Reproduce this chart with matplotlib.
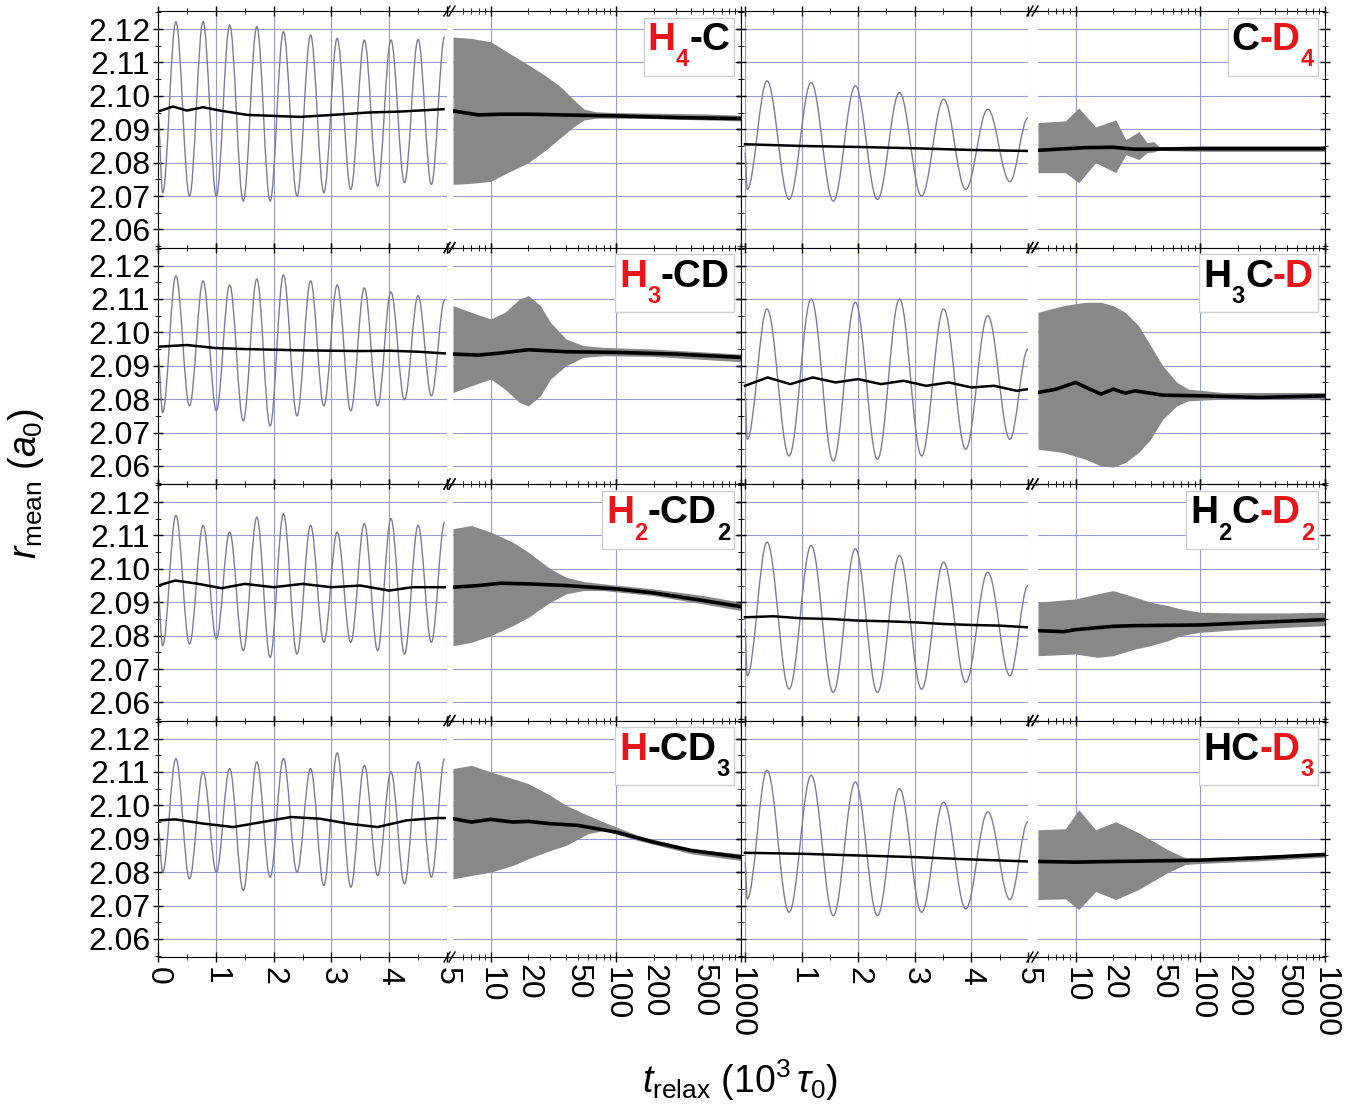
import matplotlib
matplotlib.use("Agg")
import matplotlib.pyplot as plt
from matplotlib.path import Path
from matplotlib.patches import PathPatch
from matplotlib.lines import Line2D
from matplotlib.offsetbox import TextArea, HPacker, VPacker, DrawingArea, AnchoredOffsetbox
from matplotlib.ticker import FixedLocator, NullFormatter, FuncFormatter, MultipleLocator

plt.rcParams["font.family"] = ["Liberation Sans", "DejaVu Sans"]
plt.rcParams["mathtext.fontset"] = "custom"
plt.rcParams["mathtext.rm"] = "Liberation Sans"
plt.rcParams["mathtext.it"] = "Liberation Sans:italic"
plt.rcParams["mathtext.bf"] = "Liberation Sans:bold"

RED = "#e8161b"
OSC_C = "#7c7c96"
BAND_C = "#888888"
GRID_C = "#9a9ad2"
YLIM = (2.0546, 2.1254)

# ---- linear segment (0..5): times of start point and alternating extrema
LT = [0.0, 0.08, 0.31, 0.545, 0.78, 1.01, 1.24, 1.475, 1.71, 1.94, 2.17, 2.405,
      2.64, 2.87, 3.10, 3.335, 3.57, 3.80, 4.03, 4.265, 4.50, 4.73, 4.96]
RT = [0.0, 0.04, 0.39, 0.78, 1.17, 1.56, 1.95, 2.34, 2.73, 3.12, 3.51, 3.90, 4.29, 4.68, 5.0]

H4C_OSC = [2.094, 2.071, 2.1222, 2.0700, 2.1222, 2.0700, 2.1212, 2.0685, 2.1207, 2.0685,
           2.1192, 2.0700, 2.1182, 2.0710, 2.1172, 2.0720, 2.1167, 2.0730, 2.1167, 2.0740,
           2.1169, 2.0735, 2.1177]
H3CD_OSC = [2.093, 2.076, 2.1169, 2.0780, 2.1154, 2.0765, 2.1142, 2.0735, 2.1160, 2.0720,
            2.1172, 2.0750, 2.1154, 2.0780, 2.1142, 2.0765, 2.1133, 2.0780, 2.1121, 2.0798,
            2.1110, 2.0810, 2.1097]
H2CD2_OSC = [2.093, 2.077, 2.1160, 2.0775, 2.1130, 2.0790, 2.1110, 2.0755, 2.1155, 2.0735,
             2.1165, 2.0745, 2.1130, 2.0780, 2.1110, 2.0780, 2.1135, 2.0755, 2.1150, 2.0745,
             2.1130, 2.0780, 2.1140]
HCD3_OSC = [2.093, 2.080, 2.1140, 2.0780, 2.1100, 2.0800, 2.1110, 2.0745, 2.1130, 2.0785,
            2.1140, 2.0800, 2.1110, 2.0760, 2.1157, 2.0755, 2.1120, 2.0790, 2.1100, 2.0765,
            2.1130, 2.0785, 2.1140]
CD4_OSC = [2.083, 2.072, 2.1045, 2.0690, 2.1040, 2.0685, 2.1030, 2.0690, 2.1010, 2.0700,
           2.0990, 2.0720, 2.0960, 2.0743, 2.0934]
H3CD_R_OSC = [2.082, 2.068, 2.1070, 2.0630, 2.1100, 2.0615, 2.1090, 2.0620, 2.1100, 2.0630,
              2.1070, 2.0650, 2.1050, 2.0680, 2.0950]
H2CD2_R_OSC = [2.082, 2.068, 2.1080, 2.0640, 2.1070, 2.0630, 2.1060, 2.0630, 2.1040, 2.0640,
               2.1020, 2.0660, 2.0990, 2.0680, 2.0950]
HCD3_R_OSC = [2.083, 2.072, 2.1105, 2.0680, 2.1090, 2.0670, 2.1070, 2.0670, 2.1050, 2.0680,
              2.1010, 2.0690, 2.0980, 2.0718, 2.0951]

# ---- running mean on the linear segment
H4C_MT = [0, 0.26, 0.5, 0.78, 1.07, 1.54, 1.99, 2.46, 3.03, 3.62, 4.19, 4.94]
H4C_MV = [2.0953, 2.0968, 2.0956, 2.0966, 2.0956, 2.0943, 2.0940, 2.0937, 2.0943, 2.0950, 2.0953, 2.0960]
H3CD_MT = [0, 0.5, 1, 1.5, 2, 2.5, 3, 3.5, 4, 4.5, 4.96]
H3CD_MV = [2.0957, 2.0962, 2.0953, 2.0950, 2.0948, 2.0946, 2.0945, 2.0944, 2.0945, 2.0942, 2.0937]
H2CD2_MT = [0, 0.3, 0.7, 1.1, 1.5, 2.0, 2.5, 3.0, 3.5, 4.0, 4.4, 4.96]
H2CD2_MV = [2.0950, 2.0965, 2.0955, 2.0942, 2.0955, 2.0945, 2.0955, 2.0945, 2.0950, 2.0935, 2.0945, 2.0945]
HCD3_MT = [0, 0.3, 0.8, 1.3, 1.8, 2.3, 2.8, 3.3, 3.8, 4.3, 4.8, 4.96]
HCD3_MV = [2.0955, 2.0958, 2.0945, 2.0935, 2.0950, 2.0965, 2.0960, 2.0945, 2.0935, 2.0955, 2.0962, 2.0962]
CD4_MT = [0, 1, 2, 3, 4, 5]
CD4_MV = [2.0855, 2.0850, 2.0847, 2.0843, 2.0838, 2.0835]
H3CD_R_MT = [0, 0.4, 0.8, 1.2, 1.6, 2.0, 2.4, 2.8, 3.2, 3.6, 4.0, 4.4, 4.8, 5.0]
H3CD_R_MV = [2.0840, 2.0865, 2.0845, 2.0865, 2.0850, 2.0860, 2.0845, 2.0855, 2.0840,
             2.0850, 2.0835, 2.0840, 2.0825, 2.0830]
H2CD2_R_MT = [0, 0.5, 1, 1.5, 2, 2.5, 3, 3.5, 4, 4.5, 5]
H2CD2_R_MV = [2.0855, 2.0858, 2.0852, 2.0850, 2.0845, 2.0843, 2.0840, 2.0835, 2.0832, 2.0830, 2.0825]
HCD3_R_MT = [0, 1, 2, 3, 4, 5]
HCD3_R_MV = [2.0858, 2.0855, 2.0850, 2.0845, 2.0838, 2.0832]

# ---- log segment (5..1000): envelope of the fast oscillation and its mean
H4C_BT = [5, 7, 10, 14, 20, 28, 37, 47, 56, 70, 100, 200, 500, 1000]
H4C_HI = [2.1176, 2.1172, 2.1162, 2.1128, 2.1093, 2.1058, 2.1024, 2.0985, 2.0960, 2.0952, 2.0950, 2.0948, 2.0946, 2.0942]
H4C_LO = [2.0735, 2.0738, 2.0744, 2.0772, 2.0800, 2.0840, 2.0878, 2.0910, 2.0928, 2.0933, 2.0933, 2.0932, 2.0928, 2.0925]
H4C_LMT = [5, 6, 8, 12, 20, 50, 100, 300, 1000]
H4C_LMV = [2.0955, 2.0950, 2.0943, 2.0945, 2.0945, 2.0942, 2.0940, 2.0935, 2.0932]

CD4_BT = [5, 8.3, 10.6, 14.5, 21, 25.3, 32.2, 37.4, 42.5, 46.6, 55, 100, 1000]
CD4_HI = [2.0920, 2.0925, 2.0964, 2.0907, 2.0928, 2.0869, 2.0893, 2.0860, 2.0863, 2.0848, 2.0848, 2.0850, 2.0850]
CD4_LO = [2.0770, 2.0770, 2.0740, 2.0800, 2.0770, 2.0824, 2.0809, 2.0830, 2.0832, 2.0839, 2.0836, 2.0834, 2.0834]
CD4_LMT = [5, 7, 12, 20, 30, 100, 1000]
CD4_LMV = [2.0837, 2.0840, 2.0845, 2.0846, 2.0840, 2.0842, 2.0842]

H3CD_BT = [5, 7, 10, 13, 17, 20, 25, 30, 40, 55, 80, 200, 1000]
H3CD_HI = [2.1080, 2.1060, 2.1040, 2.1060, 2.1100, 2.1110, 2.1080, 2.1030, 2.0980, 2.0960, 2.0955, 2.0950, 2.0935]
H3CD_LO = [2.0820, 2.0840, 2.0860, 2.0830, 2.0790, 2.0780, 2.0810, 2.0860, 2.0900, 2.0925, 2.0930, 2.0928, 2.0912]
H3CD_LMT = [5, 8, 12, 20, 40, 100, 300, 1000]
H3CD_LMV = [2.0935, 2.0932, 2.0938, 2.0948, 2.0942, 2.0940, 2.0935, 2.0925]

H3CD_R_BT = [5, 8, 12, 16, 20, 25, 32, 40, 50, 65, 80, 150, 1000]
H3CD_R_HI = [2.1060, 2.1080, 2.1090, 2.1090, 2.1080, 2.1060, 2.1020, 2.0960, 2.0900, 2.0850, 2.0830, 2.0820, 2.0820]
H3CD_R_LO = [2.0650, 2.0640, 2.0620, 2.0600, 2.0597, 2.0610, 2.0640, 2.0680, 2.0740, 2.0780, 2.0795, 2.0800, 2.0800]
H3CD_R_LMT = [5, 7, 10, 13, 16, 20, 25, 30, 50, 100, 300, 1000]
H3CD_R_LMV = [2.0820, 2.0830, 2.0850, 2.0830, 2.0815, 2.0830, 2.0818, 2.0825, 2.0812, 2.0810, 2.0805, 2.0810]

H2CD2_BT = [5, 7, 10, 15, 20, 30, 40, 55, 80, 200, 500, 1000]
H2CD2_HI = [2.1120, 2.1130, 2.1110, 2.1080, 2.1050, 2.1000, 2.0975, 2.0962, 2.0955, 2.0940, 2.0920, 2.0900]
H2CD2_LO = [2.0770, 2.0780, 2.0800, 2.0830, 2.0855, 2.0900, 2.0925, 2.0935, 2.0935, 2.0920, 2.0895, 2.0875]
H2CD2_LMT = [5, 8, 12, 20, 40, 100, 200, 500, 1000]
H2CD2_LMV = [2.0945, 2.0950, 2.0957, 2.0955, 2.0950, 2.0940, 2.0928, 2.0905, 2.0887]

H2CD2_R_BT = [5, 10, 15, 20, 30, 40, 55, 70, 100, 200, 500, 1000]
H2CD2_R_HI = [2.0900, 2.0910, 2.0925, 2.0935, 2.0915, 2.0900, 2.0890, 2.0880, 2.0870, 2.0868, 2.0868, 2.0870]
H2CD2_R_LO = [2.0740, 2.0745, 2.0735, 2.0740, 2.0760, 2.0770, 2.0785, 2.0800, 2.0810, 2.0818, 2.0825, 2.0830]
H2CD2_R_LMT = [5, 8, 10, 20, 30, 100, 300, 1000]
H2CD2_R_LMV = [2.0815, 2.0812, 2.0818, 2.0828, 2.0830, 2.0832, 2.0840, 2.0848]

HCD3_BT = [5, 7, 10, 15, 20, 30, 40, 60, 80, 150, 400, 1000]
HCD3_HI = [2.1110, 2.1120, 2.1100, 2.1080, 2.1065, 2.1030, 2.1000, 2.0970, 2.0950, 2.0910, 2.0870, 2.0855]
HCD3_LO = [2.0780, 2.0790, 2.0800, 2.0820, 2.0840, 2.0865, 2.0880, 2.0915, 2.0925, 2.0895, 2.0855, 2.0835]
HCD3_LMT = [5, 7, 10, 15, 20, 30, 50, 100, 200, 400, 1000]
HCD3_LMV = [2.0960, 2.0950, 2.0958, 2.0950, 2.0952, 2.0945, 2.0940, 2.0920, 2.0890, 2.0865, 2.0845]

HCD3_R_BT = [5, 8.3, 10.6, 14.5, 21, 32, 55, 76, 100, 300, 1000]
HCD3_R_HI = [2.0927, 2.0930, 2.0987, 2.0927, 2.0951, 2.0918, 2.0867, 2.0843, 2.0842, 2.0850, 2.0858]
HCD3_R_LO = [2.0718, 2.0720, 2.0688, 2.0742, 2.0718, 2.0748, 2.0799, 2.0823, 2.0826, 2.0834, 2.0845]
HCD3_R_LMT = [5, 10, 20, 50, 100, 300, 1000]
HCD3_R_LMV = [2.0832, 2.0830, 2.0832, 2.0834, 2.0836, 2.0843, 2.0853]

# ---- panel labels: (text, colour, is_subscript) pieces
LBL_H4C = [("H", RED, 0), ("4", RED, 1), ("-C", "k", 0)]
LBL_CD4 = [("C", "k", 0), ("-D", RED, 0), ("4", RED, 1)]
LBL_H3CD = [("H", RED, 0), ("3", RED, 1), ("-CD", "k", 0)]
LBL_H3CD_R = [("H", "k", 0), ("3", "k", 1), ("C", "k", 0), ("-D", RED, 0)]
LBL_H2CD2 = [("H", RED, 0), ("2", RED, 1), ("-CD", "k", 0), ("2", "k", 1)]
LBL_H2CD2_R = [("H", "k", 0), ("2", "k", 1), ("C", "k", 0), ("-D", RED, 0), ("2", RED, 1)]
LBL_HCD3 = [("H", RED, 0), ("-CD", "k", 0), ("3", "k", 1)]
LBL_HCD3_R = [("HC", "k", 0), ("-D", RED, 0), ("3", RED, 1)]

PANELS = [
    [(LT, H4C_OSC, H4C_MT, H4C_MV, H4C_BT, H4C_HI, H4C_LO, H4C_LMT, H4C_LMV, LBL_H4C),
     (RT, CD4_OSC, CD4_MT, CD4_MV, CD4_BT, CD4_HI, CD4_LO, CD4_LMT, CD4_LMV, LBL_CD4)],
    [(LT, H3CD_OSC, H3CD_MT, H3CD_MV, H3CD_BT, H3CD_HI, H3CD_LO, H3CD_LMT, H3CD_LMV, LBL_H3CD),
     (RT, H3CD_R_OSC, H3CD_R_MT, H3CD_R_MV, H3CD_R_BT, H3CD_R_HI, H3CD_R_LO, H3CD_R_LMT, H3CD_R_LMV, LBL_H3CD_R)],
    [(LT, H2CD2_OSC, H2CD2_MT, H2CD2_MV, H2CD2_BT, H2CD2_HI, H2CD2_LO, H2CD2_LMT, H2CD2_LMV, LBL_H2CD2),
     (RT, H2CD2_R_OSC, H2CD2_R_MT, H2CD2_R_MV, H2CD2_R_BT, H2CD2_R_HI, H2CD2_R_LO, H2CD2_R_LMT, H2CD2_R_LMV, LBL_H2CD2_R)],
    [(LT, HCD3_OSC, HCD3_MT, HCD3_MV, HCD3_BT, HCD3_HI, HCD3_LO, HCD3_LMT, HCD3_LMV, LBL_HCD3),
     (RT, HCD3_R_OSC, HCD3_R_MT, HCD3_R_MV, HCD3_R_BT, HCD3_R_HI, HCD3_R_LO, HCD3_R_LMT, HCD3_R_LMV, LBL_HCD3_R)],
]

LIN_TICKS = [0, 1, 2, 3, 4, 5]
LOG_LABELS = [10, 20, 50, 100, 200, 500, 1000]

W, H = 1352, 1108
# pixel spans: (linear left, linear right, log left, log right) per column
COLS = [(158, 447, 453, 741), (741, 1028, 1038, 1325)]
LIN_XLIM = [(0, 5.0), (-0.07, 5.0)]
ROW_TOP, ROW_H = 11, 236.5
TICK_FS = 23


def smooth_path(ts, vs, k=0.36):
    # cubic segments with flat tangents at every turning point
    verts, codes = [(ts[0], vs[0])], [Path.MOVETO]
    for i in range(len(ts) - 1):
        dt = ts[i + 1] - ts[i]
        verts += [(ts[i] + k * dt, vs[i]), (ts[i + 1] - k * dt, vs[i + 1]), (ts[i + 1], vs[i + 1])]
        codes += [Path.CURVE4] * 3
    return Path(verts, codes)


def box(px0, px1, top):
    return [px0 / W, 1 - (top + ROW_H) / H, (px1 - px0) / W, ROW_H / H]


def style_y(ax):
    ax.set_ylim(*YLIM)
    ax.yaxis.set_major_locator(MultipleLocator(0.01))
    ax.yaxis.set_minor_locator(MultipleLocator(0.005))
    ax.grid(True, which="major", color=GRID_C, lw=0.8)
    ax.set_axisbelow(True)


def formula(pieces):
    kids = []
    for s, col, sub in pieces:
        if sub:
            ta = TextArea(s, textprops=dict(color=col, fontsize=17, fontweight="bold"))
            kids.append(VPacker(children=[DrawingArea(1, 19), ta], pad=0, sep=0))
        else:
            kids.append(TextArea(s, textprops=dict(color=col, fontsize=28, fontweight="bold")))
    return HPacker(children=kids, align="top", pad=0, sep=0)


fig = plt.figure(figsize=(W / 100, H / 100), dpi=100)

for r, row in enumerate(PANELS):
    top = ROW_TOP + r * ROW_H
    last = r == len(PANELS) - 1
    for c, (tt, osc, mt, mv, bt, hi, lo, lmt, lmv, lbl) in enumerate(row):
        x0, x1, x2, x3 = COLS[c]
        a1 = fig.add_axes(box(x0, x1, top))
        a2 = fig.add_axes(box(x2, x3, top))

        # linear part
        style_y(a1)
        a1.set_xlim(*LIN_XLIM[c])
        a1.set_xticks(LIN_TICKS)
        a1.xaxis.set_minor_locator(MultipleLocator(0.5))
        a1.add_patch(PathPatch(smooth_path(tt, osc), fill=False, ec=OSC_C, lw=1.0))
        a1.plot(mt, mv, color="k", lw=1.8)
        a1.spines["right"].set_visible(False)
        a1.tick_params(which="both", direction="inout", top=True, right=False, left=True)
        a1.tick_params(which="major", length=7, width=1)
        a1.tick_params(which="minor", length=4)
        a1.tick_params(axis="y", labelsize=TICK_FS, labelleft=(c == 0), pad=2)
        if c == 0:
            a1.set_yticklabels([f"{v:.2f}" for v in a1.get_yticks()])
        if last:
            labs = [str(t) if not (c == 1 and t == 0) else "" for t in LIN_TICKS]
            a1.set_xticklabels(labs, rotation=-90, fontsize=TICK_FS)
        else:
            a1.set_xticklabels([])

        # log part
        style_y(a2)
        a2.set_xscale("log")
        a2.set_xlim(5, 1000)
        a2.fill_between(bt, lo, hi, color=BAND_C, lw=0)
        a2.plot(lmt, lmv, color="k", lw=2.6)
        a2.xaxis.set_major_locator(FixedLocator([10, 100, 1000]))
        a2.xaxis.set_minor_locator(FixedLocator([6, 7, 8, 9, 20, 30, 40, 50, 60, 70, 80, 90,
                                                 200, 300, 400, 500, 600, 700, 800, 900]))
        a2.spines["left"].set_visible(False)
        a2.tick_params(which="both", direction="inout", top=True, left=False, right=True,
                       labelleft=False)
        a2.tick_params(which="major", length=7, width=1)
        a2.tick_params(which="minor", length=4)
        if last:
            fmt = FuncFormatter(lambda v, p: f"{v:g}" if round(v) in LOG_LABELS else "")
            a2.xaxis.set_major_formatter(fmt)
            a2.xaxis.set_minor_formatter(fmt)
            for t in a2.get_xticklabels(which="both"):
                t.set_rotation(-90)
                t.set_fontsize(TICK_FS)
        else:
            a2.xaxis.set_major_formatter(NullFormatter())
            a2.xaxis.set_minor_formatter(NullFormatter())

        # molecule label
        ab = AnchoredOffsetbox(loc="upper right", child=formula(lbl), pad=0.3, borderpad=0.5,
                               frameon=True)
        ab.patch.set_edgecolor("#cfcfcf")
        ab.patch.set_linewidth(1.0)
        a2.add_artist(ab)

        # axis break marks on the top and bottom frame
        for yb in (top, top + ROW_H):
            xm = (x1 + x2) / 2
            fig.add_artist(Line2D([x1 / W, x2 / W], [1 - yb / H] * 2, color="k", lw=1,
                                  transform=fig.transFigure))
            for dx in (-3, 2):
                fig.add_artist(Line2D([(xm + dx - 3) / W, (xm + dx + 3) / W],
                                      [1 - (yb + 5) / H, 1 - (yb - 5) / H],
                                      color="k", lw=1, transform=fig.transFigure))

fig.text(26 / W, 1 - 484 / H, r"$r_{\mathrm{mean}}$ ($a_0$)", rotation=90, fontsize=27,
         ha="center", va="center")
fig.text(740 / W, 1 - 1080 / H, r"$t_{\mathrm{relax}}$ ($10^3\,\tau_0$)", fontsize=27,
         ha="center", va="center")

fig.savefig("out.png", dpi=100)
